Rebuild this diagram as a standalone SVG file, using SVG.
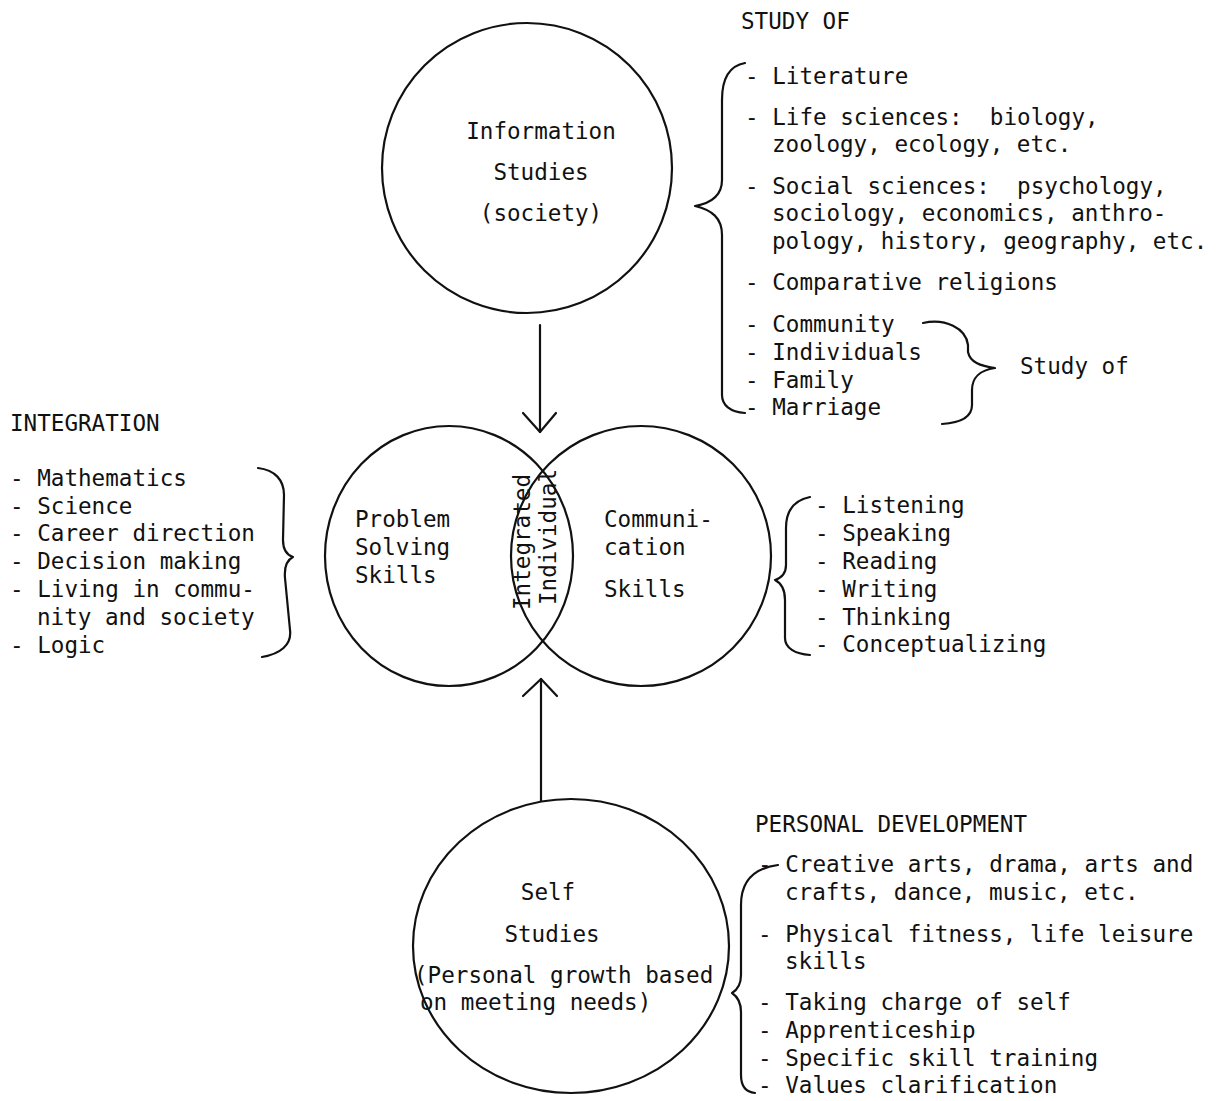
<svg xmlns="http://www.w3.org/2000/svg" width="1217" height="1101" viewBox="0 0 1217 1101">
<style>
text{font-family:"DejaVu Sans Mono","Liberation Mono",monospace;font-size:22.6px;fill:#111;}
.c{text-anchor:middle;}
.ln{fill:none;stroke:#111;stroke-width:2.2;stroke-linecap:round;stroke-linejoin:round;}
</style>
<rect width="1217" height="1101" fill="#fff"/>

<g id="info-studies">
<circle class="ln" cx="527" cy="168" r="145"/>
<text class="c" x="541" y="139">Information</text>
<text class="c" x="541" y="180">Studies</text>
<text class="c" x="541" y="221">(society)</text>
</g>

<g id="study-of-list">
<text x="741" y="29">STUDY OF</text>
<path class="ln" d="M 745 63 C 728 66, 722 80, 722 100 L 722 180 C 722 195, 712 203, 695 206 C 712 210, 722 218, 722 235 L 722 395 C 722 405, 730 412, 745 413"/>
<text x="745" y="84">- Literature</text>
<text x="745" y="125" xml:space="preserve">- Life sciences:  biology,</text>
<text x="772" y="152">zoology, ecology, etc.</text>
<text x="745" y="194" xml:space="preserve">- Social sciences:  psychology,</text>
<text x="772" y="221">sociology, economics, anthro-</text>
<text x="772" y="249">pology, history, geography, etc.</text>
<text x="745" y="290">- Comparative religions</text>
<text x="745" y="332">- Community</text>
<text x="745" y="360">- Individuals</text>
<text x="745" y="388">- Family</text>
<text x="745" y="415">- Marriage</text>
<path class="ln" d="M 923 323 C 945 318, 966 328, 968 345 L 968 352 C 970 362, 980 366, 995 368 C 980 370, 972 378, 972 390 L 972 405 C 972 418, 958 423, 942 424"/>
<text x="1020" y="374">Study of</text>
</g>

<g id="integration-list">
<text x="10" y="431">INTEGRATION</text>
<text x="10" y="486">- Mathematics</text>
<text x="10" y="514">- Science</text>
<text x="10" y="541">- Career direction</text>
<text x="10" y="569">- Decision making</text>
<text x="10" y="597">- Living in commu-</text>
<text x="37" y="625">nity and society</text>
<text x="10" y="653">- Logic</text>
<path class="ln" d="M 258 468 C 275 470, 284 480, 284 495 L 283 540 C 283 550, 287 555, 293 557 C 287 560, 284 566, 285 578 L 290 630 C 292 645, 280 654, 262 657"/>
</g>

<g id="problem-solving">
<ellipse class="ln" cx="449" cy="556" rx="124" ry="130"/>
<text x="355" y="527">Problem</text>
<text x="355" y="555">Solving</text>
<text x="355" y="583">Skills</text>
</g>

<g id="communication">
<ellipse class="ln" cx="641" cy="556" rx="130" ry="130"/>
<text x="604" y="527">Communi-</text>
<text x="604" y="555">cation</text>
<text x="604" y="597">Skills</text>
</g>

<g id="integrated-individual">
<text class="c" transform="translate(530 542) rotate(-90)">Integrated</text>
<text class="c" transform="translate(556 537) rotate(-90)">Individual</text>
</g>

<g id="communication-list">
<path class="ln" d="M 810 497 C 795 500, 786 510, 786 528 L 786 565 C 786 573, 781 578, 775 580 C 781 583, 785 590, 785 600 L 785 638 C 785 648, 795 654, 810 655"/>
<text x="815" y="513">- Listening</text>
<text x="815" y="541">- Speaking</text>
<text x="815" y="569">- Reading</text>
<text x="815" y="597">- Writing</text>
<text x="815" y="625">- Thinking</text>
<text x="815" y="652">- Conceptualizing</text>
</g>

<g id="self-studies">
<ellipse class="ln" cx="571" cy="946" rx="158" ry="147"/>
<text class="c" x="548" y="900">Self</text>
<text class="c" x="552" y="942">Studies</text>
<text x="414" y="983">(Personal growth based</text>
<text x="420" y="1010">on meeting needs)</text>
</g>

<g id="personal-development-list">
<text x="755" y="832">PERSONAL DEVELOPMENT</text>
<path class="ln" d="M 778 865 C 755 868, 741 880, 741 905 L 741 975 C 741 985, 737 990, 732 993 C 738 997, 741 1003, 741 1012 L 741 1075 C 741 1086, 745 1092, 755 1093"/>
<text x="758" y="872">- Creative arts, drama, arts and</text>
<text x="785" y="900">crafts, dance, music, etc.</text>
<text x="758" y="942">- Physical fitness, life leisure</text>
<text x="785" y="969">skills</text>
<text x="758" y="1010">- Taking charge of self</text>
<text x="758" y="1038">- Apprenticeship</text>
<text x="758" y="1066">- Specific skill training</text>
<text x="758" y="1093">- Values clarification</text>
</g>

<g id="connectors">
<path class="ln" d="M 540 325 L 540 432"/>
<path class="ln" d="M 523 413 L 540 432 L 556 413"/>
<path class="ln" d="M 541 801 L 541 679"/>
<path class="ln" d="M 523 696 L 541 679 L 557 696"/>
</g>
</svg>
